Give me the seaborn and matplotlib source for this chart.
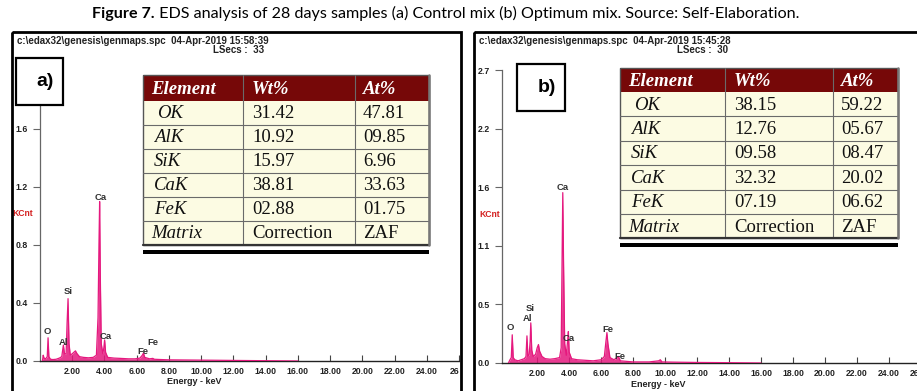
import numpy as np
import pandas as pd
import matplotlib
matplotlib.use("Agg")
import matplotlib.pyplot as plt
from matplotlib.patches import Rectangle
import seaborn as sns

# ---------------------------------------------------------------- data
# EDS spectrum (a) control mix, 28 days: energy (keV) vs counts (KCnt)
energy_a = [0.15, 0.20, 0.25, 0.35, 0.45, 0.50, 0.55, 0.65, 0.80, 1.00, 1.20, 1.35,
            1.45, 1.52, 1.62, 1.68, 1.74, 1.80, 1.88, 2.00, 2.10, 2.20, 2.30, 2.45,
            2.70, 3.00, 3.30, 3.50, 3.60, 3.66, 3.70, 3.74, 3.80, 3.90, 3.96, 4.01,
            4.07, 4.20, 4.60, 5.00, 5.50, 5.90, 6.20, 6.35, 6.42, 6.50, 6.80, 7.00,
            7.10, 7.50, 8.00, 9.00, 10.00, 11.00, 12.00, 14.00, 16.00]
counts_a = [0.00, 0.04, 0.02, 0.015, 0.03, 0.16, 0.03, 0.012, 0.010, 0.012, 0.020, 0.030,
            0.11, 0.05, 0.05, 0.26, 0.43, 0.12, 0.04, 0.05, 0.06, 0.07, 0.05, 0.03,
            0.025, 0.022, 0.025, 0.04, 0.30, 0.81, 1.10, 0.60, 0.12, 0.05, 0.09, 0.145,
            0.06, 0.025, 0.020, 0.018, 0.015, 0.015, 0.020, 0.040, 0.055, 0.025, 0.015, 0.018,
            0.012, 0.010, 0.008, 0.007, 0.006, 0.005, 0.004, 0.002, 0.000]

# EDS spectrum (b) optimum mix, 28 days
energy_b = [0.20, 0.30, 0.38, 0.44, 0.50, 0.60, 0.80, 1.00, 1.20, 1.30, 1.36, 1.42,
            1.50, 1.56, 1.60, 1.66, 1.75, 1.90, 2.00, 2.08, 2.15, 2.30, 2.50, 2.80,
            3.10, 3.40, 3.50, 3.55, 3.60, 3.65, 3.72, 3.82, 3.90, 3.95, 4.00, 4.15,
            4.50, 5.00, 5.50, 6.00, 6.20, 6.30, 6.36, 6.42, 6.55, 6.80, 7.00, 7.08,
            7.20, 7.60, 8.00, 9.00, 9.60, 9.70, 9.80, 10.50, 12.00, 14.00, 16.00]
counts_b = [0.00, 0.03, 0.05, 0.26, 0.05, 0.03, 0.02, 0.03, 0.04, 0.06, 0.25, 0.06,
            0.08, 0.20, 0.37, 0.12, 0.06, 0.08, 0.14, 0.17, 0.11, 0.06, 0.04, 0.035,
            0.04, 0.05, 0.14, 0.86, 1.57, 0.90, 0.18, 0.07, 0.20, 0.29, 0.10, 0.04,
            0.03, 0.025, 0.02, 0.03, 0.06, 0.20, 0.28, 0.18, 0.05, 0.03, 0.05, 0.06,
            0.02, 0.015, 0.010, 0.010, 0.020, 0.030, 0.010, 0.008, 0.005, 0.003, 0.000]

# peak identifications
peaks_a = ["O", "Al", "Si", "Ca", "Ca", "Fe", "Fe"]
peaks_b = ["O", "Al", "Si", "Ca", "Ca", "Fe", "Fe"]

# axis ticks
xticks = [2, 4, 6, 8, 10, 12, 14, 16, 18, 20, 22, 24, 26]
xtick_labels_a = ["2.00", "4.00", "6.00", "8.00", "10.00", "12.00", "14.00",
                  "16.00", "18.00", "20.00", "22.00", "24.00", "26"]
xtick_labels_b = ["2.00", "4.00", "6.00", "8.00", "10.00", "12.00", "14.00",
                  "16.00", "18.00", "20.00", "22.00", "24.00", "26.00"]
yticks_a = [0.0, 0.4, 0.8, 1.2, 1.6, 2.0]
ytick_labels_a = ["0.0", "0.4", "0.8", "1.2", "1.6", "2.0"]
yticks_b = [0.0, 0.54, 1.08, 1.62, 2.16, 2.70]
ytick_labels_b = ["0.0", "0.5", "1.1", "1.6", "2.2", "2.7"]

# quantification tables
table_header = ["Element", "Wt%", "At%"]
elements = ["OK", "AlK", "SiK", "CaK", "FeK", "Matrix"]
wt_a = ["31.42", "10.92", "15.97", "38.81", "02.88", "Correction"]
at_a = ["47.81", "09.85", "6.96", "33.63", "01.75", "ZAF"]
wt_b = ["38.15", "12.76", "09.58", "32.32", "07.19", "Correction"]
at_b = ["59.22", "05.67", "08.47", "20.02", "06.62", "ZAF"]

header_a = ["c:\\edax32\\genesis\\genmaps.spc  04-Apr-2019 15:58:39", "LSecs :  33"]
header_b = ["c:\\edax32\\genesis\\genmaps.spc  04-Apr-2019 15:45:28", "LSecs :  30"]

# ---------------------------------------------------------------- style
sns.set_theme(style="white")
plt.rcParams["font.family"] = ["Liberation Sans", "DejaVu Sans"]
SERIF = ["Liberation Serif", "DejaVu Serif"]
PINK = "#E5187E"
DARKRED = "#760808"
CREAM = "#FCFBE3"

W, H = 917, 391
fig = plt.figure(figsize=(W / 100, H / 100), dpi=100)
fig.patch.set_facecolor("white")


def px_axes(x0, y0, x1, y1):
    """Axes rectangle given in pixel coordinates (origin top-left)."""
    return fig.add_axes([x0 / W, 1 - y1 / H, (x1 - x0) / W, (y1 - y0) / H])


def draw_spectrum(ax, energy, counts, xlim, ylim, yt, ytl, xtl):
    df = pd.DataFrame({"Energy": energy, "KCnt": counts})
    ax.fill_between(df["Energy"], df["KCnt"], 0, color=PINK, lw=0, alpha=0.85, zorder=2)
    sns.lineplot(data=df, x="Energy", y="KCnt", ax=ax, color=PINK, lw=0.9,
                 sort=False, estimator=None, zorder=3)
    ax.set_xlim(*xlim)
    ax.set_ylim(*ylim)
    ax.set_facecolor("none")
    for s in ["top", "right"]:
        ax.spines[s].set_visible(False)
    ax.spines["left"].set_color("#666666")
    ax.spines["left"].set_linewidth(0.9)
    ax.spines["bottom"].set_color("#222222")
    ax.spines["bottom"].set_linewidth(1.0)
    ax.set_xticks(xticks)
    ax.set_xticklabels(xtl)
    ax.set_yticks(yt)
    ax.set_yticklabels(ytl)
    ax.tick_params(axis="x", direction="in", length=4, width=0.8, color="#444444",
                   labelsize=6.2, labelcolor="#222222", pad=4, bottom=True)
    ax.tick_params(axis="y", direction="out", length=5, width=0.8, color="#666666",
                   labelsize=6.3, labelcolor="#222222", pad=4, left=True)
    for t in ax.get_xticklabels() + ax.get_yticklabels():
        t.set_fontweight("bold")
    ax.set_xlabel("")
    ax.set_ylabel("")
    ax.grid(False)


def label_peaks(ax, names, spots):
    for name, (x, y) in zip(names, spots):
        ax.text(x, y, name, ha="center", va="center", fontsize=6.8,
                fontweight="bold", color="#333333", zorder=4)


# ---------------------------------------------------------------- spectra
ax_a = px_axes(40, 71, 459, 361)
draw_spectrum(ax_a, energy_a, counts_a, (0, 26), (0, 2.0), yticks_a, ytick_labels_a, xtick_labels_a)
ax_a.get_xticklabels()[-1].set_horizontalalignment("right")
label_peaks(ax_a, peaks_a, [(0.45, 0.20), (1.45, 0.13), (1.75, 0.48), (3.75, 1.13),
                            (4.1, 0.17), (6.4, 0.065), (7.0, 0.125)])
ax_a.text(9.6, -0.14, "Energy - keV", ha="center", va="center", fontsize=6.5,
          fontweight="bold", color="#222222", clip_on=False)
ax_a.text(-1.05, 1.02, "KCnt", ha="center", va="center", fontsize=6.2,
          fontweight="bold", color="#D42020", clip_on=False)

ax_b = px_axes(502, 70, 929, 363)
draw_spectrum(ax_b, energy_b, counts_b, (-0.2, 26.5), (0, 2.7), yticks_b, ytick_labels_b, xtick_labels_b)
label_peaks(ax_b, peaks_b, [(0.35, 0.33), (1.37, 0.41), (1.58, 0.50), (3.6, 1.62),
                            (3.98, 0.23), (6.4, 0.31), (7.15, 0.06)])
ax_b.text(9.6, -0.195, "Energy - keV", ha="center", va="center", fontsize=6.5,
          fontweight="bold", color="#222222", clip_on=False)
ax_b.text(-1.0, 1.37, "KCnt", ha="center", va="center", fontsize=6.2,
          fontweight="bold", color="#D42020", clip_on=False)

# ---------------------------------------------------------------- overlay (pixel space)
ov = fig.add_axes([0, 0, 1, 1])
ov.set_xlim(0, W)
ov.set_ylim(H, 0)
ov.axis("off")
ov.set_facecolor("none")

# panel frames
for x0, x1 in [(12, 461), (474, 925)]:
    ov.add_patch(Rectangle((x0, 32), x1 - x0, 370, fill=False, ec="black", lw=2.0, clip_on=False))

# acquisition headers
for (x, xl), hdr in zip([(17, 213), (479, 677)], [header_a, header_b]):
    ov.text(x, 41, hdr[0], fontsize=7.0, fontweight="bold", color="#222222", ha="left", va="center")
    ov.text(xl, 50, hdr[1], fontsize=7.0, fontweight="bold", color="#222222", ha="left", va="center")

# panel tags
for (x0, y0, x1, y1), tag in zip([(16, 58, 63, 105), (517, 64, 565, 111)], ["a)", "b)"]):
    ov.add_patch(Rectangle((x0, y0), x1 - x0, y1 - y0, fc="white", ec="black", lw=1.6))
    ov.text(x1 - 18, (y0 + y1) / 2, tag, fontsize=14, fontweight="bold", ha="center",
            va="center", color="black")


def draw_table(cols, top, head_h, row_h, wt, at):
    left, c2, c3, right = cols
    bottom = top + head_h + row_h * len(elements)
    ov.add_patch(Rectangle((left, top), right - left, bottom - top, fc=CREAM, ec="none"))
    ov.add_patch(Rectangle((left, top), right - left, head_h, fc=DARKRED, ec="none"))
    # grid
    for i in range(1, len(elements)):
        y = top + head_h + i * row_h
        ov.plot([left, right], [y, y], color="#6a6a6a", lw=0.8)
    for x in (c2, c3):
        ov.plot([x, x], [top, bottom], color="#6a6a6a", lw=0.8)
    ov.add_patch(Rectangle((left, top), right - left, bottom - top, fill=False, ec="#555555", lw=1.0))
    ov.plot([left, right], [bottom, bottom], color="#333333", lw=1.6)
    ov.plot([right, right], [top, bottom], color="#777777", lw=1.8)
    ov.add_patch(Rectangle((left, bottom + 5), right - left, 4, fc="black", ec="none"))
    # header
    hy = top + head_h / 2 + 1
    for x, txt in zip((left + 8, c2 + 9, c3 + 8), table_header):
        ov.text(x, hy, txt, family=SERIF, style="italic", fontweight="bold", fontsize=13.5,
                color="white", ha="left", va="center")
    # body
    for i, (el, w, a) in enumerate(zip(elements, wt, at)):
        y = top + head_h + (i + 0.5) * row_h + 1
        ox = 8 if el == "Matrix" else 14 if el == "OK" else 11
        ov.text(left + ox, y, el, family=SERIF, style="italic", fontsize=13.5, color="#111111",
                ha="left", va="center")
        ov.text(c2 + 9, y, w, family=SERIF, fontsize=13.5, color="#111111", ha="left", va="center")
        ov.text(c3 + 8, y, a, family=SERIF, fontsize=13.5, color="#111111", ha="left", va="center")


draw_table((143, 243, 355, 429), 75, 26, 24.0, wt_a, at_a)
draw_table((620, 725, 833, 898), 68, 24, 24.4, wt_b, at_b)

# caption
t1 = ov.text(92, 14, "Figure 7.", fontsize=11.6, fontweight="bold", family=["Lato", "DejaVu Sans"],
             ha="left", va="center", color="black")
ov.annotate(" EDS analysis of 28 days samples (a) Control mix (b) Optimum mix. Source: Self-Elaboration.",
            xy=(1, 0), xycoords=t1, va="bottom", ha="left", fontsize=11.6,
            family=["Lato", "DejaVu Sans"], color="black")

fig.savefig("out.png", dpi=100)
